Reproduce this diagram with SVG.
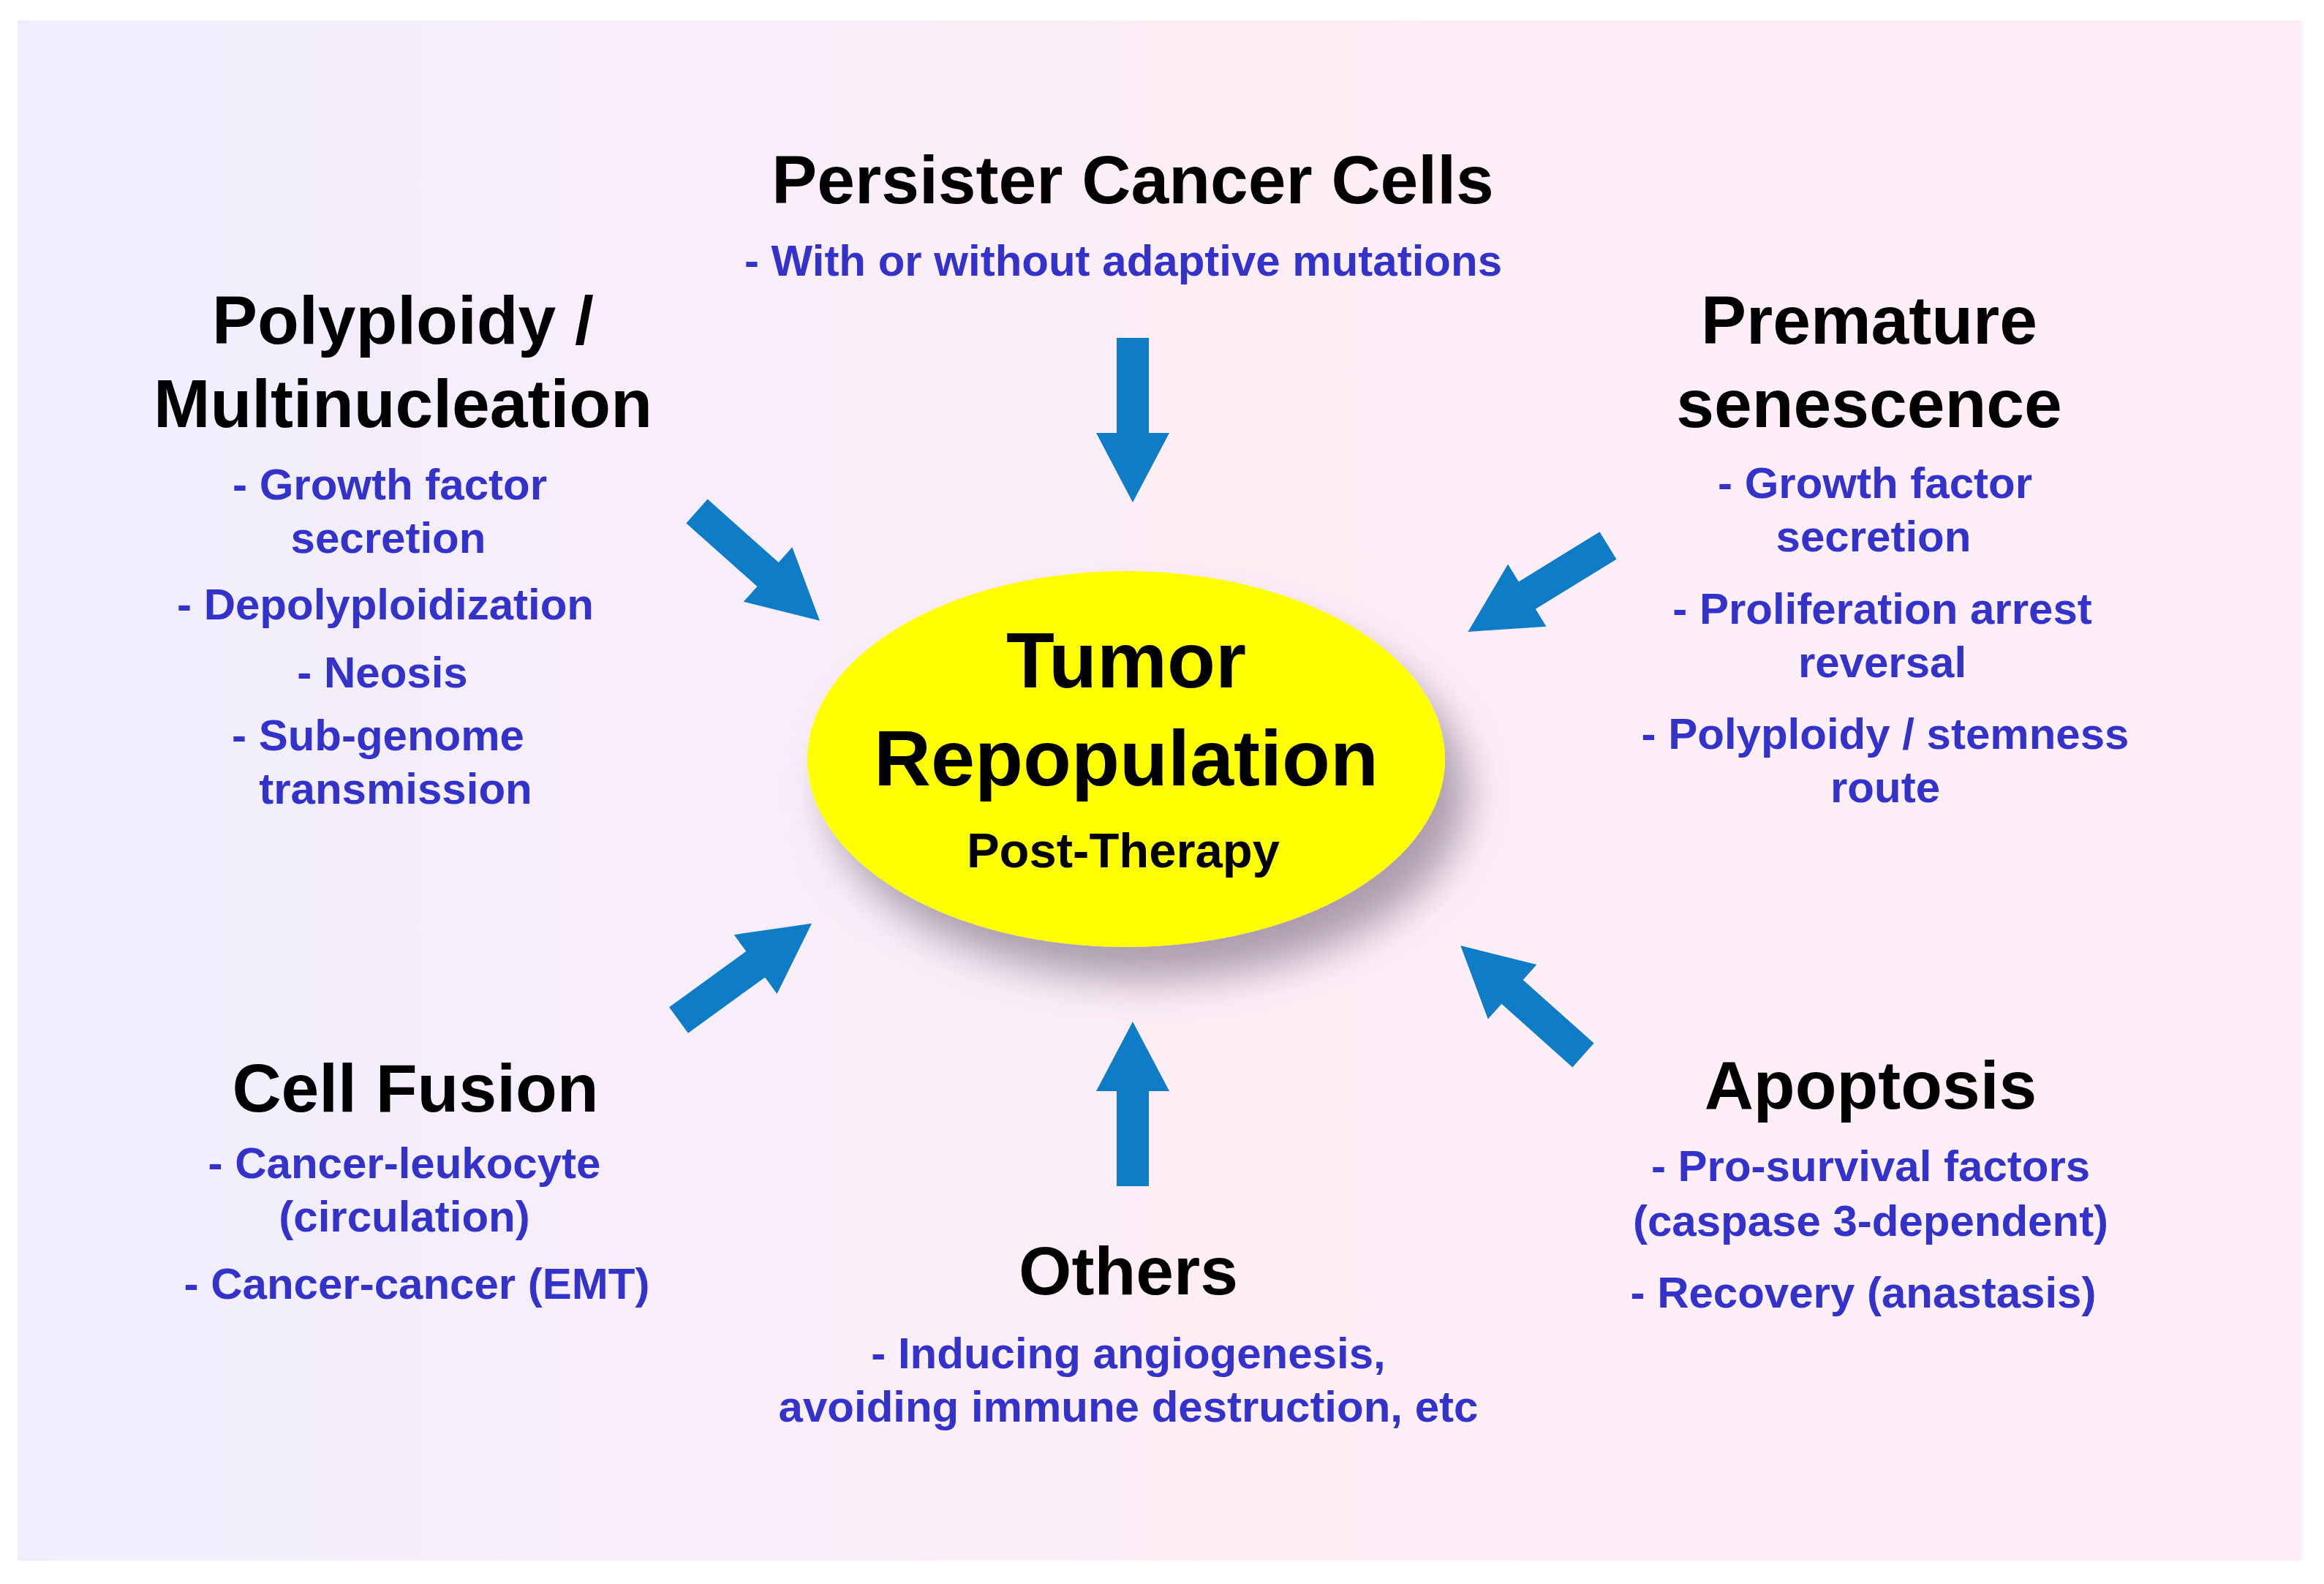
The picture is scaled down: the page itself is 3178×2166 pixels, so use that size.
<svg xmlns="http://www.w3.org/2000/svg" width="3178" height="2166" viewBox="0 0 3178 2166">
<style>
text{font-family:"Liberation Sans",Arial,sans-serif;font-weight:bold;text-anchor:middle}
.t{font-size:93px;fill:#000}
.s{font-size:60px;fill:#3333cc}
.c{fill:#000}
</style>
<defs>
<linearGradient id="bg" x1="0" y1="0" x2="1" y2="0">
<stop offset="0" stop-color="#f0eefe"/><stop offset="0.5" stop-color="#fdeef6"/><stop offset="1" stop-color="#fdeef8"/>
</linearGradient>
<filter id="sh" x="-30%" y="-30%" width="160%" height="170%">
<feDropShadow dx="30" dy="45" stdDeviation="28" flood-color="#6a5a70" flood-opacity="0.55"/>
</filter>
<path id="arr" d="M0,-22 L130,-22 L130,-50 L225,0 L130,50 L130,22 L0,22 Z" fill="#0e7cc6"/>
</defs>
<rect width="3178" height="2166" fill="#fff"/>
<rect x="24" y="28" width="3124" height="2106" fill="url(#bg)"/>
<g id="connectors">
<use href="#arr" transform="translate(1549,462) rotate(90)"/>
<use href="#arr" transform="translate(953,699) rotate(41.7)"/>
<use href="#arr" transform="translate(2199,746) rotate(148.4)"/>
<use href="#arr" transform="translate(928,1395) rotate(-36)"/>
<use href="#arr" transform="translate(1549,1622) rotate(-90)"/>
<use href="#arr" transform="translate(2165,1443) rotate(221.8)"/>
</g>
<g id="center">
<ellipse cx="1540" cy="1038" rx="436" ry="257" fill="#ffff00" filter="url(#sh)"/>
<text class="c" x="1540" y="940" font-size="108">Tumor</text>
<text class="c" x="1540" y="1074" font-size="108">Repopulation</text>
<text class="c" x="1536" y="1186" font-size="67">Post-Therapy</text>
</g>
<g id="persister">
<text class="t" x="1549" y="278">Persister Cancer Cells</text>
<text class="s" x="1536" y="377">- With or without adaptive mutations</text>
</g>
<g id="polyploidy">
<text class="t" x="551" y="470">Polyploidy /</text>
<text class="t" x="551" y="584">Multinucleation</text>
<text class="s" x="533" y="683">- Growth factor</text>
<text class="s" x="531" y="756">secretion</text>
<text class="s" x="527" y="847">- Depolyploidization</text>
<text class="s" x="523" y="940">- Neosis</text>
<text class="s" x="517" y="1026">- Sub-genome</text>
<text class="s" x="541" y="1099">transmission</text>
</g>
<g id="senescence">
<text class="t" x="2556" y="470">Premature</text>
<text class="t" x="2556" y="584">senescence</text>
<text class="s" x="2564" y="681">- Growth factor</text>
<text class="s" x="2562" y="754">secretion</text>
<text class="s" x="2574" y="853">- Proliferation arrest</text>
<text class="s" x="2574" y="926">reversal</text>
<text class="s" x="2578" y="1024">- Polyploidy / stemness</text>
<text class="s" x="2578" y="1097">route</text>
</g>
<g id="fusion">
<text class="t" x="568" y="1520">Cell Fusion</text>
<text class="s" x="553" y="1611">- Cancer-leukocyte</text>
<text class="s" x="553" y="1684">(circulation)</text>
<text class="s" x="570" y="1776">- Cancer-cancer (EMT)</text>
</g>
<g id="others">
<text class="t" x="1543" y="1770">Others</text>
<text class="s" x="1543" y="1871">- Inducing angiogenesis,</text>
<text class="s" x="1543" y="1944">avoiding immune destruction, etc</text>
</g>
<g id="apoptosis">
<text class="t" x="2558" y="1516">Apoptosis</text>
<text class="s" x="2558" y="1615">- Pro-survival factors</text>
<text class="s" x="2558" y="1690">(caspase 3-dependent)</text>
<text class="s" x="2548" y="1788">- Recovery (anastasis)</text>
</g>
</svg>
